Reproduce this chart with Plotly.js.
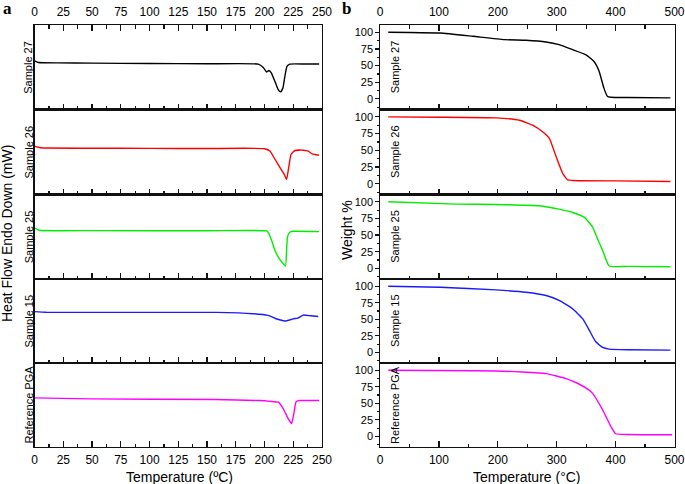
<!DOCTYPE html>
<html>
<head>
<meta charset="utf-8">
<script src="https://cdn.plot.ly/plotly-3.0.1.min.js"></script>
<style>
  html, body { margin: 0; padding: 0; background: #fff; }
  #chart { width: 685px; height: 484px; }
</style>
</head>
<body>
<div id="chart"></div>
<script>
// ---- panel a: DSC curves (heat flow in arbitrary units, endo down) ----
const dscNames = ['Sample 27', 'Sample 26', 'Sample 25', 'Sample 15', 'Reference PGA'];
const curveColors = ['#000000', '#ff0000', '#00ee00', '#1a1aff', '#ff00ff'];

const dscT27 = [0, 3.5, 20, 50, 100, 150, 194.5, 198.9, 201.8, 203.8, 206, 209.6, 211.9, 214, 216, 217.7, 219.5, 222, 235, 247.5];
const dscHF27 = [49, 47.3, 46.9, 46.6, 46.3, 46, 45.7, 42.3, 37.7, 39.3, 36.7, 26.7, 20, 17.7, 21.7, 33.3, 43.3, 45.7, 45.8, 45.7];

const dscT26 = [0, 5, 50, 100, 150, 200, 204.9, 209.2, 213.6, 217.2, 219.2, 221.2, 223, 226.4, 233.7, 238, 241.5, 247.3];
const dscHF26 = [48.3, 46.7, 46.3, 46.1, 46, 45.8, 43.3, 35, 26.7, 20, 15, 28.3, 40, 44, 44.3, 43.3, 40.7, 39.3];

const dscT25 = [0, 4, 50, 150, 201.8, 203.8, 206.1, 209, 211.9, 214.8, 218.3, 219.2, 220, 222, 225, 247.5];
const dscHF25 = [51.3, 49, 48.7, 48.5, 48.3, 45.7, 39, 29, 22.3, 17.3, 13.3, 29, 42.3, 47, 48, 47.7];

const dscT15 = [0, 10, 100, 158, 190, 203, 206, 209, 213, 218.3, 222, 225, 229, 233.7, 240, 246.7];
const dscHF15 = [52, 51.3, 51.2, 51.2, 49.9, 48.2, 47, 45.3, 43.8, 42.5, 43.6, 44.7, 45.5, 48.5, 47.8, 47];

const dscTPGA = [0, 48, 157, 196, 205, 212, 216.3, 220.6, 223.5, 225.5, 227.3, 229.3, 235, 247.5];
const dscHFPGA = [49.7, 48.7, 48, 47, 46.2, 45.3, 38.7, 28.7, 23.7, 33.7, 45.3, 47, 47, 47];

// ---- panel b: TGA curves (weight %) ----
const tgaNames = ['Sample 27', 'Sample 26', 'Sample 25', 'Sample 15', 'Reference PGA'];

const tgaT27 = [14, 50, 102, 158, 211, 248, 282, 304, 327, 349, 363, 372, 380, 386, 392, 420, 493];
const tgaW27 = [100, 99.8, 99, 94, 89, 88, 85.5, 81.5, 74, 66.5, 56.5, 41.5, 16.5, 4, 2.5, 2, 1.5];

const tgaT26 = [14, 100, 197, 237, 259, 276, 287.5, 299, 310, 318.5, 327, 400, 493];
const tgaW26 = [100, 99.5, 98.5, 95, 87.6, 77.7, 67.8, 40.6, 15.8, 5.9, 5, 4.3, 3.5];

const tgaT25 = [14, 130, 200, 270, 304, 327, 347, 361, 369, 378, 389, 420, 493];
const tgaW25 = [100, 96.5, 96, 94, 89, 84, 76.7, 62, 45, 27, 3.5, 3, 2.5];

const tgaT15 = [14, 102, 197, 248, 282, 304, 327, 344, 355, 366, 378, 389, 420, 493];
const tgaW15 = [100, 98.5, 94.5, 91, 86, 78.6, 66, 51, 34, 16.4, 7.5, 5, 4, 3.5];

const tgaTPGA = [14, 197, 282, 316, 336, 355, 361, 378, 392, 400, 420, 496];
const tgaWPGA = [100, 99, 95, 87.5, 80, 70, 65, 40, 15, 4, 3, 2.5];

const dscT = [dscT27, dscT26, dscT25, dscT15, dscTPGA];
const dscHF = [dscHF27, dscHF26, dscHF25, dscHF15, dscHFPGA];
const tgaT = [tgaT27, tgaT26, tgaT25, tgaT15, tgaTPGA];
const tgaW = [tgaW27, tgaW26, tgaW25, tgaW15, tgaWPGA];

// ---- layout geometry (pixels) ----
const W = 685, H = 484;
const rowEdges = [25, 109.5, 194.5, 279, 363, 447];
const panelA = [34.6, 322];
const panelB = [380, 674.5];
const FONT = 'Liberation Sans, Arial, sans-serif';
const AXIS = '#111';

const px = v => v / W;
const py = v => 1 - v / H;
const rowDomain = i => [py(rowEdges[i + 1]), py(rowEdges[i])];

function xAxis(domain, range, dtick, minorDtick, anchor, row) {
  const top = row === 0, bottom = row === 4;
  return {
    domain, range, anchor,
    side: top ? 'top' : 'bottom',
    showline: true, linecolor: AXIS, linewidth: 1.2,
    mirror: top ? 'ticks' : true,
    ticks: 'inside', ticklen: 6, tickwidth: 1.2, tickcolor: AXIS,
    tick0: 0, dtick,
    minor: { ticks: 'inside', ticklen: 3.5, tickwidth: 1.2, tickcolor: AXIS, dtick: minorDtick, showgrid: false },
    showticklabels: top || bottom,
    ticklabelstandoff: top ? 3 : 1,
    tickfont: { family: FONT, size: 12, color: '#000' },
    showgrid: false, zeroline: false, fixedrange: true
  };
}

const traces = [];
const layout = {
  width: W, height: H,
  margin: { l: 0, r: 0, t: 0, b: 0 },
  paper_bgcolor: '#fff', plot_bgcolor: '#fff',
  showlegend: false,
  font: { family: FONT, color: '#000' },
  annotations: []
};

for (let i = 0; i < 5; i++) {
  // panel a subplot
  const na = i + 1;
  const xa = na === 1 ? 'x' : 'x' + na;
  const ya = na === 1 ? 'y' : 'y' + na;
  traces.push({
    x: dscT[i], y: dscHF[i], xaxis: xa, yaxis: ya,
    type: 'scatter', mode: 'lines',
    line: { color: curveColors[i], width: 1.4, shape: 'spline', smoothing: 0.4 },
    hoverinfo: 'skip'
  });
  layout['xaxis' + (na === 1 ? '' : na)] = xAxis([px(panelA[0]), px(panelA[1])], [0, 250], 25, 12.5, ya, i);
  layout['yaxis' + (na === 1 ? '' : na)] = {
    domain: rowDomain(i), anchor: xa, range: [0, 85],
    showline: true, linecolor: AXIS, linewidth: 1.2, mirror: true,
    ticks: '', showticklabels: false, showgrid: false, zeroline: false, fixedrange: true
  };
  layout.annotations.push({
    xref: 'paper', yref: 'paper', x: px(28.5), y: py((rowEdges[i] + rowEdges[i + 1]) / 2),
    text: dscNames[i], textangle: -90, showarrow: false,
    xanchor: 'center', yanchor: 'middle', font: { family: FONT, size: 11, color: '#000' }
  });

  // panel b subplot
  const nb = i + 6;
  const xb = 'x' + nb, yb = 'y' + nb;
  traces.push({
    x: tgaT[i], y: tgaW[i], xaxis: xb, yaxis: yb,
    type: 'scatter', mode: 'lines',
    line: { color: curveColors[i], width: 1.4, shape: 'spline', smoothing: 0.4 },
    hoverinfo: 'skip'
  });
  layout['xaxis' + nb] = xAxis([px(panelB[0]), px(panelB[1])], [0, 500], 100, 50, yb, i);
  layout['yaxis' + nb] = {
    domain: rowDomain(i), anchor: xb, range: [-16, 111],
    showline: true, linecolor: AXIS, linewidth: 1.2, mirror: true,
    ticks: 'outside', ticklen: 3.5, tickwidth: 1.2, tickcolor: AXIS,
    tick0: 0, dtick: 25,
    minor: { ticks: 'outside', ticklen: 2, tickwidth: 1.2, tickcolor: AXIS, dtick: 12.5, showgrid: false },
    tickfont: { family: FONT, size: 11, color: '#000' },
    showgrid: false, zeroline: false, fixedrange: true
  };
  layout.annotations.push({
    xref: 'paper', yref: 'paper', x: px(395), y: py((rowEdges[i] + rowEdges[i + 1]) / 2),
    text: tgaNames[i], textangle: -90, showarrow: false,
    xanchor: 'center', yanchor: 'middle', font: { family: FONT, size: 11, color: '#000' }
  });
}

// axis titles and panel letters
const titleFont = { family: FONT, size: 14, color: '#000' };
layout.annotations.push(
  { xref: 'paper', yref: 'paper', x: px(7), y: py(234), text: 'Heat Flow Endo Down (mW)',
    textangle: -90, showarrow: false, xanchor: 'center', yanchor: 'middle', font: titleFont },
  { xref: 'paper', yref: 'paper', x: px(347), y: py(230), text: 'Weight %',
    textangle: -90, showarrow: false, xanchor: 'center', yanchor: 'middle', font: titleFont },
  { xref: 'paper', yref: 'paper', x: px(179), y: py(477), text: 'Temperature (ºC)',
    showarrow: false, xanchor: 'center', yanchor: 'middle', font: titleFont },
  { xref: 'paper', yref: 'paper', x: px(527), y: py(477), text: 'Temperature (°C)',
    showarrow: false, xanchor: 'center', yanchor: 'middle', font: titleFont },
  { xref: 'paper', yref: 'paper', x: px(7), y: py(9), text: '<b>a</b>',
    showarrow: false, xanchor: 'center', yanchor: 'middle',
    font: { family: 'Liberation Serif, Times New Roman, serif', size: 17, color: '#000' } },
  { xref: 'paper', yref: 'paper', x: px(346), y: py(9), text: '<b>b</b>',
    showarrow: false, xanchor: 'center', yanchor: 'middle',
    font: { family: 'Liberation Serif, Times New Roman, serif', size: 17, color: '#000' } }
);

Plotly.newPlot('chart', traces, layout, { displayModeBar: false, staticPlot: true });
</script>
</body>
</html>
